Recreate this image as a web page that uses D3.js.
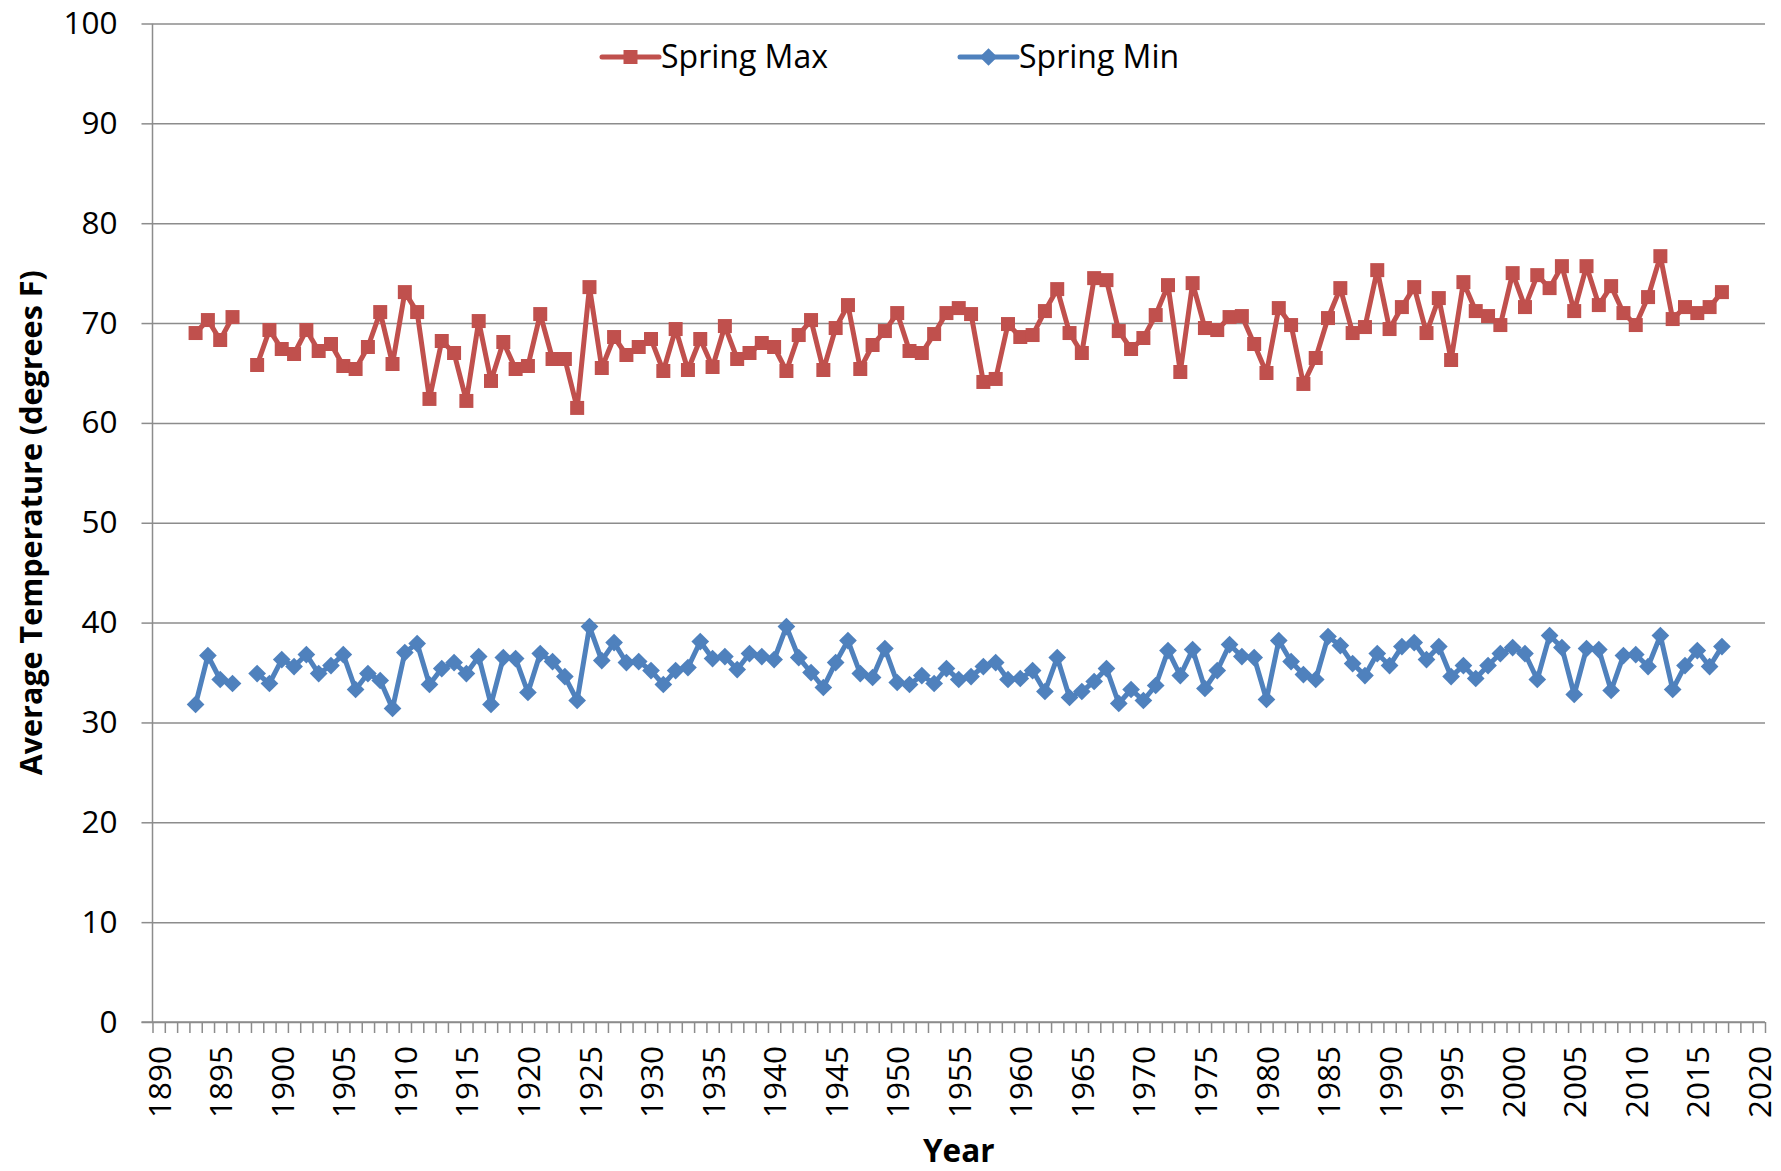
<!DOCTYPE html>
<html>
<head>
<meta charset="utf-8">
<script src="https://cdn.jsdelivr.net/npm/d3@7"></script>
<style>
  body { margin: 0; background: #fff; }
  text { font-family: "Open Sans", sans-serif; fill: #000; }
</style>
</head>
<body>
<div id="chart"></div>
<script>

// years on the category axis, and the years that have data
var axisYears = d3.range(1890, 2021),
    labelYears = [1890, 1895, 1900, 1905, 1910, 1915, 1920, 1925, 1930, 1935, 1940, 1945, 1950,
                  1955, 1960, 1965, 1970, 1975, 1980, 1985, 1990, 1995, 2000, 2005, 2010, 2015, 2020],
    yTicks = [0, 10, 20, 30, 40, 50, 60, 70, 80, 90, 100];

var years = [
    1893, 1894, 1895, 1896, 1897, 1898, 1899, 1900, 1901, 1902,
    1903, 1904, 1905, 1906, 1907, 1908, 1909, 1910, 1911, 1912,
    1913, 1914, 1915, 1916, 1917, 1918, 1919, 1920, 1921, 1922,
    1923, 1924, 1925, 1926, 1927, 1928, 1929, 1930, 1931, 1932,
    1933, 1934, 1935, 1936, 1937, 1938, 1939, 1940, 1941, 1942,
    1943, 1944, 1945, 1946, 1947, 1948, 1949, 1950, 1951, 1952,
    1953, 1954, 1955, 1956, 1957, 1958, 1959, 1960, 1961, 1962,
    1963, 1964, 1965, 1966, 1967, 1968, 1969, 1970, 1971, 1972,
    1973, 1974, 1975, 1976, 1977, 1978, 1979, 1980, 1981, 1982,
    1983, 1984, 1985, 1986, 1987, 1988, 1989, 1990, 1991, 1992,
    1993, 1994, 1995, 1996, 1997, 1998, 1999, 2000, 2001, 2002,
    2003, 2004, 2005, 2006, 2007, 2008, 2009, 2010, 2011, 2012,
    2013, 2014, 2015, 2016, 2017];

var springMax = [
    69.0, 70.3, 68.3, 70.6, null, 65.8, 69.3, 67.4, 66.9, 69.3,
    67.2, 67.9, 65.7, 65.4, 67.6, 71.1, 65.9, 73.1, 71.1, 62.4,
    68.2, 67.0, 62.2, 70.2, 64.2, 68.1, 65.4, 65.7, 70.9, 66.4,
    66.4, 61.5, 73.6, 65.5, 68.6, 66.8, 67.6, 68.4, 65.2, 69.4,
    65.3, 68.4, 65.6, 69.7, 66.4, 67.0, 68.0, 67.6, 65.2, 68.8,
    70.3, 65.3, 69.5, 71.8, 65.4, 67.8, 69.2, 71.0, 67.2, 67.0,
    68.9, 71.0, 71.5, 70.9, 64.1, 64.4, 69.9, 68.6, 68.8, 71.2,
    73.4, 69.0, 67.0, 74.5, 74.3, 69.2, 67.4, 68.5, 70.8, 73.8,
    65.1, 74.0, 69.5, 69.3, 70.6, 70.7, 67.9, 65.0, 71.5, 69.8,
    63.9, 66.5, 70.5, 73.5, 69.0, 69.6, 75.3, 69.4, 71.6, 73.6,
    69.0, 72.5, 66.3, 74.1, 71.2, 70.7, 69.8, 75.0, 71.6, 74.8,
    73.5, 75.7, 71.2, 75.7, 71.8, 73.7, 71.0, 69.8, 72.6, 76.7,
    70.4, 71.6, 71.0, 71.6, 73.1];

var springMin = [
    31.8, 36.7, 34.3, 33.9, null, 34.9, 33.9, 36.3, 35.6, 36.8,
    34.9, 35.7, 36.8, 33.3, 34.9, 34.2, 31.4, 37.0, 37.9, 33.8,
    35.4, 36.0, 34.9, 36.6, 31.8, 36.5, 36.4, 33.0, 36.9, 36.1,
    34.6, 32.2, 39.6, 36.2, 38.0, 36.0, 36.1, 35.2, 33.8, 35.2,
    35.5, 38.1, 36.4, 36.6, 35.3, 36.9, 36.6, 36.3, 39.6, 36.5,
    35.0, 33.5, 36.0, 38.2, 34.9, 34.5, 37.4, 34.0, 33.8, 34.7,
    33.9, 35.4, 34.3, 34.6, 35.6, 36.0, 34.3, 34.4, 35.2, 33.1,
    36.5, 32.5, 33.1, 34.1, 35.4, 31.9, 33.3, 32.2, 33.7, 37.2,
    34.7, 37.3, 33.4, 35.2, 37.8, 36.6, 36.5, 32.3, 38.2, 36.1,
    34.8, 34.3, 38.6, 37.7, 35.9, 34.7, 36.9, 35.7, 37.6, 38.0,
    36.3, 37.6, 34.6, 35.7, 34.4, 35.7, 36.9, 37.5, 36.9, 34.3,
    38.7, 37.5, 32.8, 37.4, 37.3, 33.2, 36.7, 36.8, 35.6, 38.7,
    33.3, 35.7, 37.2, 35.6, 37.6];

var seriesNames = ["Spring Max", "Spring Min"],
    seriesColors = ["#C0504D", "#4F81BD"];

var W = 1781, H = 1171,
    margins = { top: 23.5, right: 16, bottom: 149, left: 152.5 },
    width = W - margins.left - margins.right,
    height = H - margins.top - margins.bottom;

var svg = d3.select("#chart")
    .append("svg")
    .attr("width", W)
    .attr("height", H);

var g = svg.append("g")
    .attr("transform", "translate(" + margins.left + "," + margins.top + ")");

var yScale = d3.scaleLinear()
    .domain([0, 100])
    .range([height, 0]);

var xScale = d3.scaleBand()
    .domain(axisYears)
    .range([0, width])
    .padding(0);

// boundaries between the year categories, for the tick marks
var xEdges = d3.scaleLinear()
    .domain([1890, 2021])
    .range([0, width]);

// gridlines
var grid = g.append("g")
    .call(d3.axisLeft(yScale).tickValues(yTicks).tickSize(-width).tickFormat(""));
grid.select(".domain").remove();
grid.selectAll("line").attr("stroke", "#8c8c8c").attr("stroke-width", 1.5);

// y axis
var yGuide = g.append("g")
    .call(d3.axisLeft(yScale).tickValues(yTicks).tickSize(11).tickPadding(24));
yGuide.select(".domain").attr("stroke", "#8c8c8c").attr("stroke-width", 1.5)
    .attr("d", "M0," + yScale(100) + "V" + yScale(0));
yGuide.selectAll("line").attr("stroke", "#8c8c8c").attr("stroke-width", 1.5);
yGuide.selectAll("text")
    .style("font-size", "31.5px")
    .style("font-family", "'Open Sans', sans-serif")
    .attr("fill", "#000");

// x axis: minor ticks on every year boundary
var xTicks = g.append("g")
    .attr("transform", "translate(0," + height + ")")
    .call(d3.axisBottom(xEdges).tickValues(d3.range(1890, 2022)).tickSize(11).tickFormat(""));
xTicks.select(".domain").attr("stroke", "#8c8c8c").attr("stroke-width", 1.5)
    .attr("d", "M-11,0H" + width);
xTicks.selectAll("line").attr("stroke", "#8c8c8c").attr("stroke-width", 1.5);

// x axis labels every five years, rotated
var xLabels = g.append("g")
    .attr("transform", "translate(0," + height + ")")
    .call(d3.axisBottom(xScale).tickValues(labelYears).tickSize(0).tickFormat(d3.format("d")));
xLabels.select(".domain").remove();
xLabels.selectAll("text")
    .style("font-size", "31.5px")
    .style("font-family", "'Open Sans', sans-serif")
    .attr("fill", "#000")
    .attr("text-anchor", "end")
    .attr("dy", "0.35em")
    .attr("x", 0)
    .attr("y", 0)
    .attr("transform", "translate(1,24) rotate(-90)");

// series lines and markers
var series = [springMax, springMin];

function cx(i) { return xScale(years[i]) + xScale.bandwidth() / 2; }

var line = d3.line()
    .defined(function (d) { return d != null; })
    .x(function (d, i) { return cx(i); })
    .y(function (d) { return yScale(d); });

var markers = [
    d3.symbol().type(d3.symbolSquare).size(196)(),
    d3.symbol().type(d3.symbolDiamond2).size(200)()
];

series.forEach(function (vals, s) {
    g.append("path")
        .datum(vals)
        .attr("fill", "none")
        .attr("stroke", seriesColors[s])
        .attr("stroke-width", 5)
        .attr("stroke-linejoin", "round")
        .attr("d", line);

    var pts = vals.map(function (v, i) { return { v: v, i: i }; })
        .filter(function (d) { return d.v != null; });

    g.append("g").selectAll("path")
        .data(pts)
        .enter()
        .append("path")
        .attr("transform", function (d) {
            return "translate(" + cx(d.i) + "," + yScale(d.v) + ")";
        })
        .attr("d", markers[s])
        .attr("fill", seriesColors[s]);
});

// legend
var legendX = [602, 960];
seriesNames.forEach(function (name, s) {
    var lg = svg.append("g").attr("transform", "translate(" + legendX[s] + ",57)");
    lg.append("line")
        .attr("x1", 0).attr("x2", 57)
        .attr("stroke", seriesColors[s])
        .attr("stroke-width", 5)
        .attr("stroke-linecap", "round");
    lg.append("path")
        .attr("transform", "translate(28.5,0)")
        .attr("d", markers[s])
        .attr("fill", seriesColors[s]);
    lg.append("text")
        .attr("x", 59)
        .attr("dy", "0.35em")
        .style("font-size", "32px")
        .text(name);
});

// axis titles
svg.append("text")
    .attr("transform", "translate(31," + (margins.top + height / 2) + ") rotate(-90)")
    .attr("text-anchor", "middle")
    .attr("dy", "0.35em")
    .style("font-size", "30.5px")
    .style("font-weight", "bold")
    .text("Average Temperature (degrees F)");

svg.append("text")
    .attr("x", margins.left + width / 2)
    .attr("y", 1162)
    .attr("text-anchor", "middle")
    .style("font-size", "31.5px")
    .style("font-weight", "bold")
    .text("Year");

</script>
</body>
</html>
